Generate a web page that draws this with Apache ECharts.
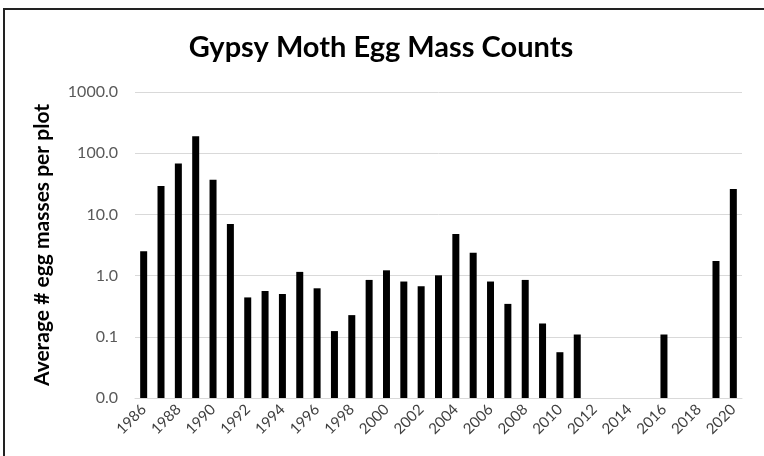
<!DOCTYPE html>
<html>
<head>
<meta charset="utf-8">
<script src="https://cdn.jsdelivr.net/npm/echarts@6/dist/echarts.min.js"></script>
<style>
  html, body { margin: 0; padding: 0; background: #fff; }
  #chart { width: 764px; height: 456px; }
</style>
</head>
<body>
<div id="chart"></div>
<script>
// years 1986..2020, null = no egg masses found
const years = [];
for (let y = 1986; y <= 2020; y++) years.push(String(y));

const eggMasses = [
  2.5, 29, 68, 190, 37, 7.0, 0.44, 0.56, 0.50, 1.15,
  0.62, 0.124, 0.226, 0.85, 1.22, 0.80, 0.67, 1.01, 4.8, 2.37,
  0.80, 0.345, 0.85, 0.165, 0.056, 0.109, null, null, null, null,
  0.109, null, null, 1.74, 26
];

const chart = echarts.init(document.getElementById('chart'));
chart.setOption({
  animation: false,
  title: {
    text: 'Gypsy Moth Egg Mass Counts',
    left: 376,
    top: 28,
    textAlign: 'center',
    textStyle: { fontFamily: 'Lato', fontSize: 29, fontWeight: 'bold', color: '#000' }
  },
  graphic: [{
    type: 'rect',
    shape: { x: 4, y: 9, width: 820, height: 520 },
    style: { fill: 'none', stroke: '#222', lineWidth: 2 },
    silent: true
  }],
  grid: { left: 135, right: 22, top: 92, bottom: 58 },
  xAxis: {
    type: 'category',
    data: years,
    axisLine: { lineStyle: { color: '#d9d9d9' } },
    axisTick: { show: false },
    axisLabel: {
      interval: 1,
      rotate: 45,
      color: '#404040',
      fontFamily: 'Lato',
      fontSize: 15,
      margin: 9
    }
  },
  yAxis: {
    type: 'log',
    logBase: 10,
    min: 0.01,
    max: 1000,
    startValue: 0.01,
    name: 'Average # egg masses per plot',
    nameLocation: 'middle',
    nameGap: 82,
    nameTextStyle: { fontFamily: 'Lato', fontSize: 21, fontWeight: 'bold', color: '#000' },
    axisLine: { show: false },
    axisTick: { show: false },
    splitLine: { lineStyle: { color: '#d9d9d9' } },
    axisLabel: {
      color: '#595959',
      fontFamily: 'Lato',
      fontSize: 16,
      margin: 17,
      formatter: v => v.toFixed(1)
    }
  },
  series: [{
    type: 'bar',
    data: eggMasses,
    barWidth: 7,
    itemStyle: { color: '#000' }
  }]
});
</script>
</body>
</html>
